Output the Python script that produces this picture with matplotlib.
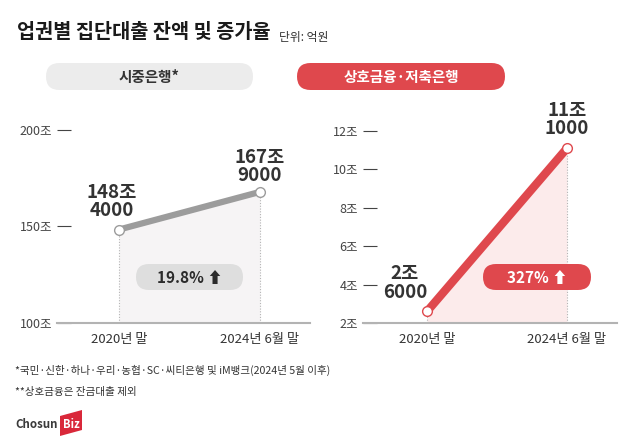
import matplotlib
matplotlib.use('Agg')
import matplotlib.pyplot as plt
from matplotlib.patches import FancyBboxPatch, Polygon

plt.rcParams['font.family'] = ['Noto Sans CJK KR', 'DejaVu Sans']

# data
periods = ['2020년 말', '2024년 6월 말']
bank_vals = [148.4, 167.9]
bank_labels = ['148조\n4000', '167조\n9000']
bank_ticks = [100, 150, 200]
mutual_vals = [2.6, 11.1]
mutual_labels = ['2조\n6000', '11조\n1000']
mutual_ticks = [2, 4, 6, 8, 10, 12]
growth = ['19.8%', '327%']
panel_titles = ['시중은행*', '상호금융·저축은행']

RED = '#df484d'
GRAY = '#9c9c9c'

W, H = 640, 444
fig = plt.figure(figsize=(W / 100, H / 100), dpi=100)


def px_axes(x0, x1, ytop, ybot):
    return fig.add_axes([x0 / W, 1 - ybot / H, (x1 - x0) / W, (ybot - ytop) / H])


def panel(ax, vals, labels, ticks, xlim, ylim, lcolor, lw, fill, offsets):
    ax.set_facecolor('none')
    x = [0, 1]
    ax.fill_between(x, vals, ylim[0], color=fill, lw=0, zorder=1)
    ax.vlines(x, ylim[0], vals, colors='#b5b5b5', linestyles=(0, (1, 1.5)), lw=0.8, zorder=2)
    ax.plot(x, vals, color=lcolor, lw=lw, solid_capstyle='butt', zorder=3)
    ax.plot(x, vals, 'o', ms=7, mfc='white', mec=lcolor, mew=1.0, zorder=4)
    for xi, v, lab, off in zip(x, vals, labels, offsets):
        ax.annotate(lab, (xi, v), xytext=off, textcoords='offset pixels',
                    ha='center', va='center', fontsize=13.5, fontweight='bold',
                    color='#333333', linespacing=0.95, annotation_clip=False)
    ax.set_xlim(*xlim)
    ax.set_ylim(*ylim)
    ax.set_yticks(ticks)
    ax.set_yticklabels([f'{t}조' for t in ticks])
    ax.set_xticks(x)
    ax.set_xticklabels(periods)
    ax.tick_params(axis='y', direction='in', length=10, width=0.8, color='#444444',
                   pad=3.5, labelsize=9, labelcolor='#444444')
    ax.tick_params(axis='x', length=0, pad=7, labelsize=9.5, labelcolor='#333333')
    for s in ['top', 'right', 'left']:
        ax.spines[s].set_visible(False)
    ax.spines['bottom'].set_color('#b3b3b3')
    ax.spines['bottom'].set_linewidth(1.5)


ax1 = px_axes(57, 310, 100, 323)
panel(ax1, bank_vals, bank_labels, bank_ticks, (-0.44, 1.355), (100, 215.5),
      GRAY, 4.5, '#f6f4f5', [(-7, 28), (0, 25.5)])

ax2 = px_axes(363, 617, 100, 323)
panel(ax2, mutual_vals, mutual_labels, mutual_ticks, (-0.457, 1.357), (2, 13.61),
      RED, 6, '#fcebeb', [(-22, 28.5), (0, 28.5)])

# overlay in pixel coordinates
ov = fig.add_axes([0, 0, 1, 1], zorder=5)
ov.set_facecolor('none')
ov.set_xlim(0, W)
ov.set_ylim(H, 0)
ov.axis('off')

ov.text(17, 33, '업권별 집단대출 잔액 및 증가율', fontsize=14.2, fontweight='bold',
        color='#1a1a1a', va='center', ha='left')
ov.text(279, 37, '단위: 억원', fontsize=8.5, color='#333333', va='center', ha='left')

# panel headers
for (x0, x1), title, fc, tc in zip([(46, 253), (297, 505)], panel_titles,
                                   ['#ececec', RED], ['#333333', 'white']):
    ov.add_patch(FancyBboxPatch((x0, 63), x1 - x0, 27,
                                boxstyle='round,pad=0,rounding_size=13.5',
                                fc=fc, ec='none'))
    ov.text((x0 + x1) / 2, 77, title, fontsize=10.5, color=tc,
            ha='center', va='center', fontweight='bold')

# growth badges
for (x0, x1), g, fc, tc in zip([(136, 243), (483, 591)], growth,
                               ['#dedede', RED], ['#2b2b2b', 'white']):
    ov.add_patch(FancyBboxPatch((x0, 264), x1 - x0, 26,
                                boxstyle='round,pad=0,rounding_size=13',
                                fc=fc, ec='none'))
    ov.text((x0 + x1) / 2, 277.5, g + ' ⬆', fontsize=11, color=tc,
            ha='center', va='center', fontweight='bold')

# footnotes
ov.text(15, 370, '*국민·신한·하나·우리·농협·SC·씨티은행 및 iM뱅크(2024년 5월 이후)',
        fontsize=7.6, color='#333333', va='center')
ov.text(15, 392, '**상호금융은 잔금대출 제외', fontsize=7.6, color='#333333', va='center')

# logo
ov.text(15, 424, 'Chosun', fontsize=8.3, fontweight='bold', color='#3a3a3a', va='center')
ov.add_patch(Polygon([(60, 416), (82, 410), (82, 430), (60, 436)], closed=True,
                     fc='#d9283a', ec='none'))
ov.text(71, 424, 'Biz', fontsize=8, fontweight='bold', color='white',
        va='center', ha='center')

fig.savefig('out.png', dpi=100)
